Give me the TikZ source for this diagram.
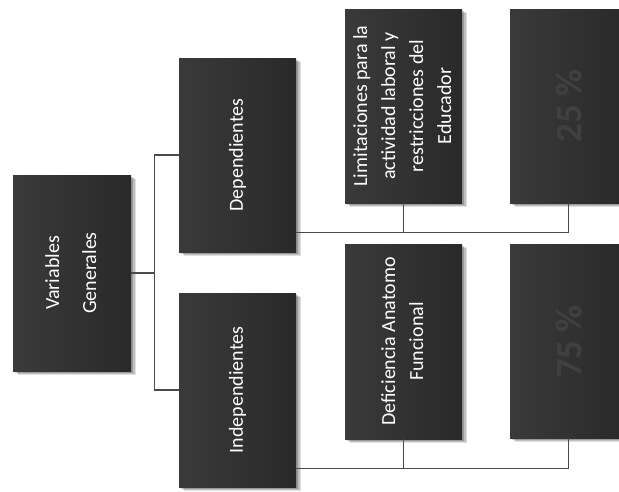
\documentclass[tikz,border=0pt]{standalone}
\usepackage{fontspec}
\setmainfont{Carlito}
\usetikzlibrary{shadows}
\definecolor{boxlight}{HTML}{3A3A3A}
\definecolor{boxdark}{HTML}{292929}
\definecolor{linegray}{HTML}{4A4A4A}
\definecolor{pctgray}{HTML}{404040}
\begin{document}
\begin{tikzpicture}[x=1pt,y=-1pt,line cap=rect,
		box/.style={rectangle,inner sep=0pt,minimum width=117pt,minimum height=194pt,
			left color=boxlight,right color=boxdark,text=white,align=center,
			font=\fontsize{20}{28}\selectfont,
			drop shadow={shadow xshift=5pt,shadow yshift=-3.5pt,fill=black,opacity=0.12},
			drop shadow={shadow xshift=3.5pt,shadow yshift=-2.5pt,fill=black,opacity=0.15},
			drop shadow={shadow xshift=2pt,shadow yshift=-1.5pt,fill=black,opacity=0.2}},
		pct/.style={box,text=pctgray,font=\fontsize{37}{40}\selectfont\bfseries},
		conn/.style={draw=linegray,line width=1.3pt}]
		\useasboundingbox (0,0) rectangle (619,491);
		%\draw[help lines] (0,0) grid[step=50] (619,491);
		\node[box,minimum width=118pt,minimum height=196pt] (vg) at (72,273)
		{\rotatebox{90}{\begin{tabular}{c}Variables\\[9pt]Generales\end{tabular}}};
		\node[box] (dep) at (237.5,155) {\rotatebox{90}{Dependientes}};
		\node[box] (ind) at (237.5,390) {\rotatebox{90}{Independientes}};
		\node[box] (lim) at (403.5,106) {\rotatebox{90}{\begin{tabular}{c}Limitaciones para la\\
					actividad laboral y\\restricciones del\\Educador\end{tabular}}};
		\node[box,minimum height=195pt] (def) at (403.5,341.5)
		{\rotatebox{90}{\begin{tabular}{c}Deficiencia Anatomo\\Funcional\end{tabular}}};
		\foreach \N/\Y/\T in {pa/106/25,pb/341.5/75}
		{\node[pct] (\N) at (568.5,\Y) {\rotatebox{90}{\T\ \%}};}
		% branches
		\draw[conn] (vg.east) -- ++(23,0) |- (dep.west);
		\draw[conn] (vg.east) ++(23,0) |- (ind.west);
		\path ([yshift=20pt]dep.south east) coordinate (dj)
		([yshift=19pt]ind.south east) coordinate (ij);
		\draw[conn] (dj) -| (pa.south);
		\draw[conn] (lim.south) -- (lim.south |- dj);
		\draw[conn] (ij) -| (pb.south);
		\draw[conn] (def.south) -- (def.south |- ij);
		\end{tikzpicture}
\end{document}
